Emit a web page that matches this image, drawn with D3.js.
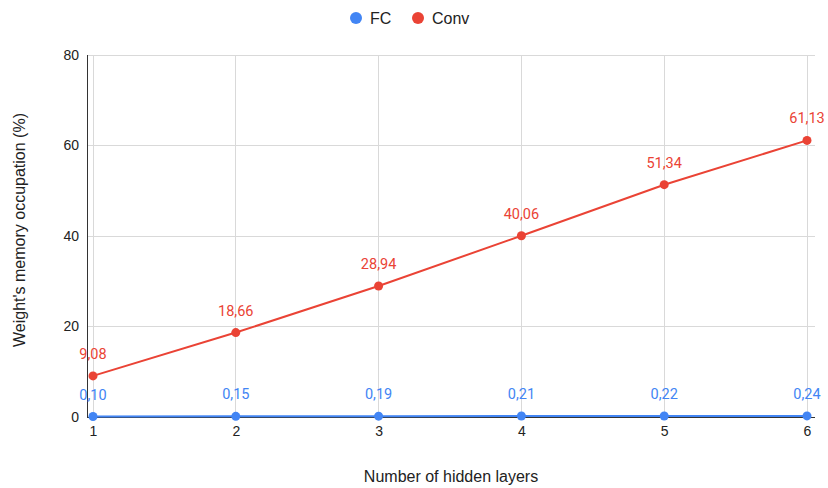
<!DOCTYPE html>
<html>
<head>
<meta charset="utf-8">
<script src="https://cdn.jsdelivr.net/npm/d3@7"></script>
<style>
  html, body { margin: 0; padding: 0; background: #fff; }
  svg { display: block; font-family: "Liberation Sans", Arial, sans-serif; }
</style>
</head>
<body>
<svg id="chart" width="828" height="488"></svg>
<script>
// Hidden-layer counts on the x axis
const layers = [1, 2, 3, 4, 5, 6];
// Weight memory occupation (%) per network type
const fcValues = [0.10, 0.15, 0.19, 0.21, 0.22, 0.24];
const convValues = [9.08, 18.66, 28.94, 40.06, 51.34, 61.13];
// Y axis ticks
const yTicks = [0, 20, 40, 60, 80];
const seriesNames = ["FC", "Conv"];
const seriesColors = ["#4285F4", "#EA4335"];

const series = [
  { name: seriesNames[0], color: seriesColors[0], values: fcValues },
  { name: seriesNames[1], color: seriesColors[1], values: convValues }
];

const svg = d3.select("#chart");
const x = d3.scaleLinear().domain([1, 6]).range([93, 807]);
const y = d3.scaleLinear().domain([0, 80]).range([417, 55]);
const plotLeft = 87, plotRight = 815;
const sans = "'Liberation Sans', Arial, sans-serif";
const labelFont = "Roboto, Arial, sans-serif";

const fmt = v => d3.format(".2f")(v).replace(".", ",");

// Horizontal gridlines
svg.append("g").selectAll("line").data(yTicks).join("line")
  .attr("x1", plotLeft).attr("x2", plotRight)
  .attr("y1", d => y(d)).attr("y2", d => y(d))
  .attr("stroke", "#d9d9d9").attr("stroke-width", 1)
  .attr("shape-rendering", "crispEdges");

// Vertical gridlines
svg.append("g").selectAll("line").data(layers).join("line")
  .attr("x1", d => x(d)).attr("x2", d => x(d))
  .attr("y1", y(80)).attr("y2", y(0))
  .attr("stroke", "#d9d9d9").attr("stroke-width", 1)
  .attr("shape-rendering", "crispEdges");

// Axis lines
svg.append("line")
  .attr("x1", plotLeft).attr("x2", plotLeft)
  .attr("y1", y(80)).attr("y2", y(0))
  .attr("stroke", "#333").attr("stroke-width", 1)
  .attr("shape-rendering", "crispEdges");
svg.append("line")
  .attr("x1", plotLeft).attr("x2", plotRight)
  .attr("y1", y(0)).attr("y2", y(0))
  .attr("stroke", "#333").attr("stroke-width", 1)
  .attr("shape-rendering", "crispEdges");

// Y tick labels
const yAxis = d3.axisLeft(y).tickValues(yTicks).tickSize(0).tickPadding(8);
const gy = svg.append("g").attr("transform", `translate(${plotLeft},0)`).call(yAxis);
gy.select(".domain").remove();
gy.selectAll("text").attr("font-size", 14).attr("fill", "#222")
  .attr("font-family", sans);

// X tick labels
const xAxis = d3.axisBottom(x).tickValues(layers).tickFormat(d3.format("d")).tickSize(0).tickPadding(9);
const gx = svg.append("g").attr("transform", `translate(0,${y(0)})`).call(xAxis);
gx.select(".domain").remove();
gx.selectAll("text").attr("font-size", 14).attr("fill", "#222")
  .attr("font-family", sans);

// Axis titles
svg.append("text")
  .attr("x", 451).attr("y", 482)
  .attr("text-anchor", "middle")
  .attr("font-size", 16).attr("fill", "#222")
  .text("Number of hidden layers");
svg.append("text")
  .attr("transform", `translate(25,230) rotate(-90)`)
  .attr("text-anchor", "middle")
  .attr("font-size", 16).attr("fill", "#222")
  .text("Weight's memory occupation (%)");

// Series lines, points and value labels
const line = d3.line().x((d, i) => x(layers[i])).y(d => y(d));
series.forEach(s => {
  const g = svg.append("g");
  g.append("path").datum(s.values)
    .attr("d", line).attr("fill", "none")
    .attr("stroke", s.color).attr("stroke-width", 2);
  g.selectAll("circle").data(s.values).join("circle")
    .attr("cx", (d, i) => x(layers[i])).attr("cy", d => y(d))
    .attr("r", 4.5).attr("fill", s.color);
  g.selectAll("text").data(s.values).join("text")
    .attr("x", (d, i) => x(layers[i])).attr("y", d => y(d) - 17)
    .attr("text-anchor", "middle")
    .attr("font-family", labelFont)
    .attr("font-size", 14.5).attr("fill", s.color)
    .text(d => fmt(d));
});

// Legend
const legend = svg.append("g");
const legendItems = [
  { name: seriesNames[0], color: seriesColors[0], cx: 356 },
  { name: seriesNames[1], color: seriesColors[1], cx: 418 }
];
legendItems.forEach(it => {
  legend.append("circle").attr("cx", it.cx).attr("cy", 18).attr("r", 6).attr("fill", it.color);
  legend.append("text").attr("x", it.cx + 14).attr("y", 24)
    .attr("font-size", 16).attr("fill", "#222").text(it.name);
});
</script>
</body>
</html>
